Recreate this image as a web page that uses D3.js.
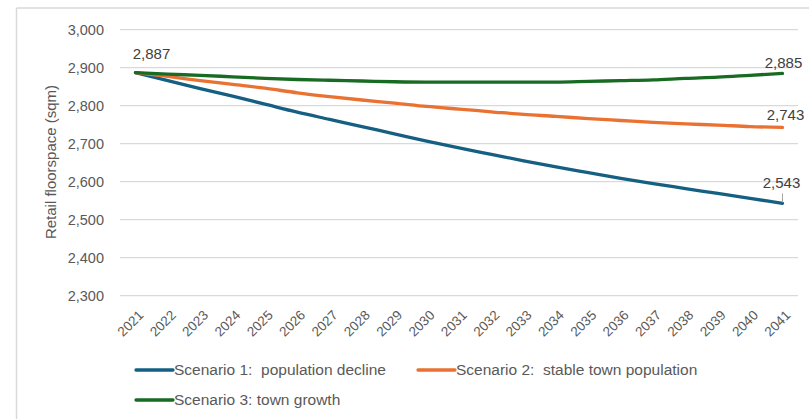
<!DOCTYPE html>
<html><head><meta charset="utf-8">
<script src="https://cdn.jsdelivr.net/npm/d3@7/dist/d3.min.js"></script>
<style>
html,body{margin:0;padding:0;background:#fff;}
svg{display:block;}
</style></head>
<body><svg id="chart" width="809" height="419"></svg>
<script>
const years = ["2021","2022","2023","2024","2025","2026","2027","2028","2029","2030","2031","2032","2033","2034","2035","2036","2037","2038","2039","2040","2041"];
const scenario1 = [2887,2866,2845,2825,2804,2783,2764,2745,2726,2707,2689,2672,2655,2639,2624,2609,2595,2582,2569,2556,2543];
const scenario2 = [2887,2877,2866,2856,2846,2834,2824,2815,2807,2798,2791,2784,2777,2772,2766,2761,2756,2752,2749,2745,2743];
const scenario3 = [2887,2883,2880,2876,2872,2869,2867,2865,2863,2862,2862,2862,2862,2862,2864,2866,2868,2872,2875,2880,2885];
const seriesNames = ["Scenario 1:  population decline","Scenario 2:  stable town population","Scenario 3: town growth"];
const seriesColors = ["#156082","#E97132","#196B24"];
const yTicks = [2300,2400,2500,2600,2700,2800,2900,3000];
const yTitle = "Retail floorspace (sqm)";

const series = [scenario1, scenario2, scenario3];
const svg = d3.select("#chart");
const fmt = d3.format(",");
const FONT = "'Liberation Sans', Arial, sans-serif";

// frame
svg.append("line").attr("x1",16.5).attr("x2",809).attr("y1",8).attr("y2",8).attr("stroke","#d9d9d9").attr("stroke-width",1.5);
svg.append("line").attr("x1",16.5).attr("x2",16.5).attr("y1",8).attr("y2",419).attr("stroke","#d9d9d9").attr("stroke-width",1.5);

const x = d3.scalePoint().domain(years).range([135.5, 782.5]);
const y = d3.scaleLinear().domain([2300, 3000]).range([295.7, 29.7]);
const plotL = 120, plotR = 798;

// gridlines
svg.append("g").selectAll("line").data(yTicks).join("line")
  .attr("x1", plotL).attr("x2", plotR)
  .attr("y1", d => y(d)).attr("y2", d => y(d))
  .attr("stroke", "#d9d9d9").attr("stroke-width", 1.2);

// y axis
const yAxis = svg.append("g").attr("transform", `translate(${plotL},0)`)
  .call(d3.axisLeft(y).tickValues(yTicks).tickFormat(fmt).tickSize(0).tickPadding(16));
yAxis.select(".domain").remove();
yAxis.selectAll("text").attr("fill","#595959").style("font-family",FONT).style("font-size","14.5px");

// x axis
const xAxis = svg.append("g").attr("transform", `translate(0,${y(2300)})`)
  .call(d3.axisBottom(x).tickSize(0).tickPadding(0));
xAxis.select(".domain").remove();
xAxis.selectAll("text")
  .attr("fill","#595959").style("font-family",FONT).style("font-size","13.5px")
  .attr("text-anchor","end")
  .attr("dy","0.35em").attr("y",0)
  .attr("transform","translate(5,17) rotate(-45)");

// axis title
svg.append("text").attr("transform","translate(56,162) rotate(-90)")
  .attr("text-anchor","middle").attr("fill","#595959")
  .style("font-family",FONT).style("font-size","15px")
  .text(yTitle);

// lines
const line = d3.line().x((d,i) => x(years[i])).y(d => y(d)).curve(d3.curveMonotoneX);
svg.append("g").selectAll("path").data(series).join("path")
  .attr("d", d => line(d)).attr("fill","none")
  .attr("stroke", (d,i) => seriesColors[i]).attr("stroke-width", 3.3)
  .attr("stroke-linecap","round").attr("stroke-linejoin","round");

// data labels
const lblStyle = sel => sel.attr("fill","#404040").attr("text-anchor","middle")
  .style("font-family",FONT).style("font-size","15px");
svg.append("text").call(lblStyle).attr("x", x(years[0]) + 16).attr("y", y(scenario1[0]) - 14).text(fmt(scenario1[0]));
const last = years.length - 1;
svg.append("text").call(lblStyle).attr("x", x(years[last]) + 1).attr("y", y(scenario3[last]) - 5).text(fmt(scenario3[last]));
svg.append("text").call(lblStyle).attr("x", x(years[last]) + 3).attr("y", y(scenario2[last]) - 7).text(fmt(scenario2[last]));
svg.append("text").call(lblStyle).attr("x", x(years[last]) - 1).attr("y", y(scenario1[last]) - 15).text(fmt(scenario1[last]));
svg.append("line").attr("x1", x(years[last])).attr("x2", x(years[last]))
  .attr("y1", y(scenario1[last]) - 10).attr("y2", y(scenario1[last]) - 1)
  .attr("stroke","#a6a6a6").attr("stroke-width",1);

// legend
const legendItems = [
  {x: 136, y: 370, i: 0},
  {x: 418, y: 370, i: 1},
  {x: 136, y: 400, i: 2}
];
const lg = svg.append("g").selectAll("g").data(legendItems).join("g")
  .attr("transform", d => `translate(${d.x},${d.y})`);
lg.append("line").attr("x1",0).attr("x2",37).attr("y1",0).attr("y2",0)
  .attr("stroke", d => seriesColors[d.i]).attr("stroke-width",3.3).attr("stroke-linecap","round");
lg.append("text").attr("x",38).attr("y",0).attr("dy","0.35em")
  .attr("fill","#595959").style("font-family",FONT).style("font-size","15.5px")
  .style("white-space","pre").attr("xml:space","preserve")
  .text(d => seriesNames[d.i]);
</script>
</body></html>
